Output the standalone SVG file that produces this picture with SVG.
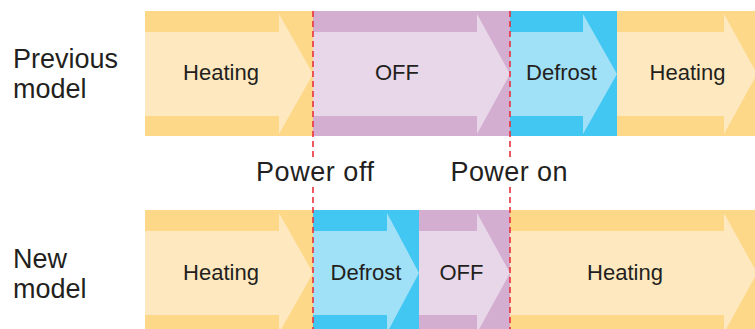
<svg xmlns="http://www.w3.org/2000/svg" width="755" height="329" viewBox="0 0 755 329">
<style>
text{font-family:"Liberation Sans",Arial,sans-serif;fill:#231f20}
.lbl{font-size:22px;text-anchor:middle}
.big{font-size:27px}
.hd{fill:#fdd888}.hl{fill:#fde8bf}
.od{fill:#d3aed0}.ol{fill:#e8d7e8}
.dd{fill:#42c6f2}.dl{fill:#a1e1f8}
.div{stroke:#e8303c;stroke-width:1.6;stroke-dasharray:6 4;fill:none}
</style>
<rect width="755" height="329" fill="#fff"/>
<g id="label-previous"><text class="big" x="13" y="68">Previous</text><text class="big" x="13" y="98">model</text></g>
<g id="label-new"><text class="big" x="13" y="268">New</text><text class="big" x="13" y="298">model</text></g>
<g id="prev-heating1"><rect class="hd" x="145" y="11" width="168" height="125"/><polygon class="hl" points="145,32 279,32 279,14 313,74 279,134 279,116 145,116"/><text class="lbl" x="221" y="80">Heating</text></g>
<g id="prev-off"><rect class="od" x="313" y="11" width="197" height="125"/><polygon class="ol" points="313,32 477,32 477,14 510,74 477,134 477,116 313,116"/><text class="lbl" x="397" y="80">OFF</text></g>
<g id="prev-defrost"><rect class="dd" x="510" y="11" width="107" height="125"/><polygon class="dl" points="510,32 583,32 583,14 617,74 583,134 583,116 510,116"/><text class="lbl" x="561.5" y="80">Defrost</text></g>
<g id="prev-heating2"><rect class="hd" x="617" y="11" width="138" height="125"/><polygon class="hl" points="617,32 724,32 724,14 757,74 724,134 724,116 617,116"/><text class="lbl" x="687.5" y="80">Heating</text></g>
<g id="new-heating1"><rect class="hd" x="145" y="210" width="168" height="125"/><polygon class="hl" points="145,231 279,231 279,213 313,273 279,333 279,315 145,315"/><text class="lbl" x="221" y="280">Heating</text></g>
<g id="new-defrost"><rect class="dd" x="313" y="210" width="106" height="125"/><polygon class="dl" points="313,231 387,231 387,213 419,273 387,333 387,315 313,315"/><text class="lbl" x="366" y="280">Defrost</text></g>
<g id="new-off"><rect class="od" x="419" y="210" width="91" height="125"/><polygon class="ol" points="419,231 477,231 477,213 510,273 477,333 477,315 419,315"/><text class="lbl" x="461.5" y="280">OFF</text></g>
<g id="new-heating2"><rect class="hd" x="510" y="210" width="245" height="125"/><polygon class="hl" points="510,231 724,231 724,213 757,273 724,333 724,315 510,315"/><text class="lbl" x="625" y="280">Heating</text></g>
<g id="connectors">
<path class="div" d="M313,11V158M313,187V329M510,11V158M510,187V329"/>
</g>
<g id="power-labels"><text class="big" x="315" y="181" text-anchor="middle" textLength="118">Power off</text><text class="big" x="509" y="181" text-anchor="middle" textLength="117">Power on</text></g>
</svg>
